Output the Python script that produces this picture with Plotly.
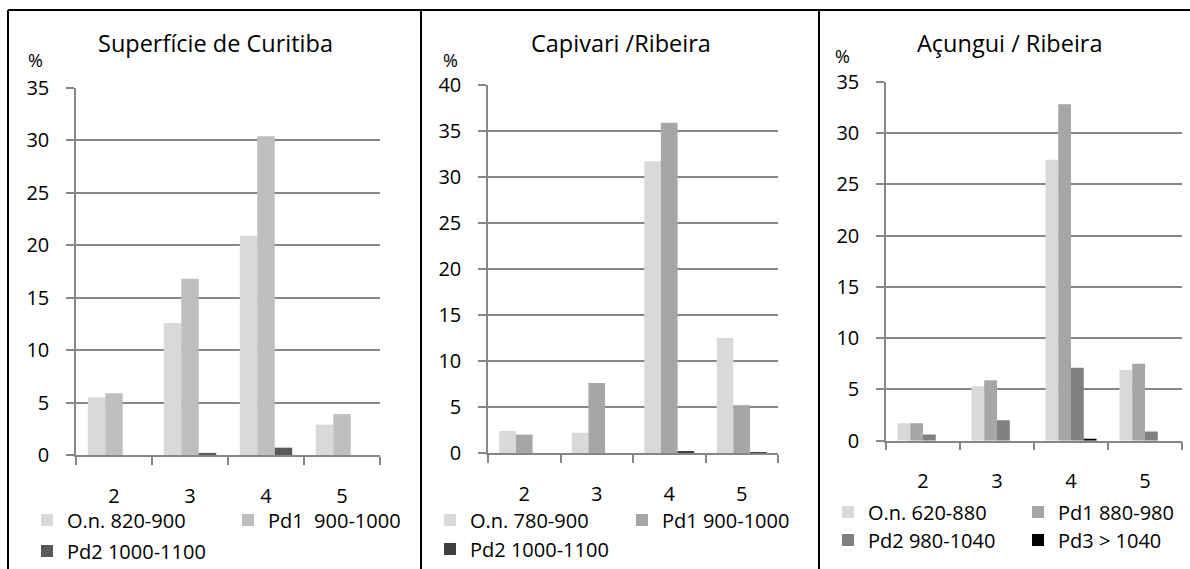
import plotly.graph_objects as go

# Altimetric classes on the horizontal axis
classes = ["2", "3", "4", "5"]

# Superfície de Curitiba (%)
curitiba_on = [5.5, 12.6, 20.9, 2.9]
curitiba_pd1 = [5.9, 16.8, 30.4, 3.9]
curitiba_pd2 = [0.0, 0.2, 0.7, 0.0]

# Capivari / Ribeira (%)
capivari_on = [2.4, 2.2, 31.7, 12.5]
capivari_pd1 = [2.0, 7.6, 35.9, 5.2]
capivari_pd2 = [0.0, 0.0, 0.2, 0.05]

# Açungui / Ribeira (%)
acungui_on = [1.7, 5.3, 27.4, 6.9]
acungui_pd1 = [1.7, 5.9, 32.8, 7.5]
acungui_pd2 = [0.6, 2.0, 7.1, 0.9]
acungui_pd3 = [0.0, 0.0, 0.15, 0.0]

W, H = 1190, 569
FONT = "Open Sans"
TXT = 20
GRID = "#868686"


def fx(px):
    return px / W


def fy(py):
    return 1 - py / H


panels = [
    dict(title="Superfície de Curitiba", title_x=215, pct_x=35, pct_y=60, ymax=35,
         x0=76, x1=380, y0=455, y1=88,
         series=[("O.n. 820-900", curitiba_on, "#d9d9d9", 67, 520),
                 ("Pd1\u00a0 900-1000", curitiba_pd1, "#bfbfbf", 268, 520),
                 ("Pd2 1000-1100", curitiba_pd2, "#595959", 67, 551)]),
    dict(title="Capivari /Ribeira", title_x=621, pct_x=450, pct_y=60, ymax=40,
         x0=488, x1=778, y0=453, y1=85,
         series=[("O.n. 780-900", capivari_on, "#d9d9d9", 470, 520),
                 ("Pd1 900-1000", capivari_pd1, "#a6a6a6", 662, 520),
                 ("Pd2 1000-1100", capivari_pd2, "#404040", 470, 549)]),
    dict(title="Açungui / Ribeira", title_x=1009, pct_x=842, pct_y=56, ymax=35,
         x0=886, x1=1182, y0=440.7, y1=81.7,
         series=[("O.n. 620-880", acungui_on, "#d9d9d9", 868, 512),
                 ("Pd1 880-980", acungui_pd1, "#a6a6a6", 1058, 512),
                 ("Pd2 980-1040", acungui_pd2, "#808080", 868, 540),
                 ("Pd3 > 1040", acungui_pd3, "#000000", 1058, 540)]),
]

fig = go.Figure()
layout = dict(
    width=W, height=H, margin=dict(l=0, r=0, t=0, b=0, autoexpand=False),
    paper_bgcolor="white", plot_bgcolor="white",
    barmode="group", bargap=0.31, bargroupgap=0,
    font=dict(family=FONT, size=TXT, color="black"),
    annotations=[], shapes=[],
)

legend_no = 0
for i, p in enumerate(panels, start=1):
    xa = "x" if i == 1 else f"x{i}"
    ya = "y" if i == 1 else f"y{i}"
    for name, vals, color, lx, ly in p["series"]:
        legend_no += 1
        lname = "legend" if legend_no == 1 else f"legend{legend_no}"
        fig.add_trace(go.Bar(
            x=classes, y=vals, name=name, marker=dict(color=color, line=dict(width=0)),
            xaxis=xa, yaxis=ya, legend=lname, showlegend=True,
        ))
        layout[lname] = dict(
            x=fx(lx - 40), y=fy(ly), xanchor="left", yanchor="middle",
            orientation="h", bgcolor="rgba(0,0,0,0)", borderwidth=0,
            font=dict(family=FONT, size=TXT, color="black"),
        )
    layout["xaxis" if i == 1 else f"xaxis{i}"] = dict(
        domain=[fx(p["x0"]), fx(p["x1"])], anchor=ya, type="category",
        range=[-0.5, 3.5], tickson="boundaries", ticks="outside", ticklen=8,
        tickwidth=1.5, tickcolor=GRID, showline=True, linecolor=GRID, linewidth=1.5,
        showgrid=False, ticklabelstandoff=22, fixedrange=True,
        tickfont=dict(family=FONT, size=TXT, color="black"),
    )
    layout["yaxis" if i == 1 else f"yaxis{i}"] = dict(
        domain=[fy(p["y0"]), fy(p["y1"])], anchor=xa, range=[0, p["ymax"]],
        dtick=5, ticks="outside", ticklen=8, tickwidth=1.5, tickcolor=GRID,
        showline=True, linecolor=GRID, linewidth=1.5, showgrid=True,
        gridcolor=GRID, gridwidth=1.5, zeroline=False, ticklabelstandoff=13,
        fixedrange=True, tickfont=dict(family=FONT, size=TXT, color="black"),
    )
    layout["annotations"].append(dict(
        text=p["title"], x=fx(p["title_x"]), y=fy(43), xref="paper", yref="paper",
        xanchor="center", yanchor="middle", showarrow=False,
        font=dict(family=FONT, size=23.5, color="black"),
    ))
    layout["annotations"].append(dict(
        text="%", x=fx(p["pct_x"]), y=fy(p["pct_y"]), xref="paper", yref="paper",
        xanchor="center", yanchor="middle", showarrow=False,
        font=dict(family=FONT, size=18, color="black"),
    ))

# Table frame around the three panels
frame = dict(type="line", xref="paper", yref="paper", line=dict(color="black", width=2))
layout["shapes"] += [
    dict(frame, x0=fx(8), x1=1, y0=fy(10), y1=fy(10)),
    dict(frame, x0=fx(8), x1=fx(8), y0=fy(10), y1=0),
    dict(frame, x0=fx(421), x1=fx(421), y0=fy(10), y1=0),
    dict(frame, x0=fx(819), x1=fx(819), y0=fy(10), y1=0),
]

fig.update_layout(**layout)
fig.write_html("out.html")
